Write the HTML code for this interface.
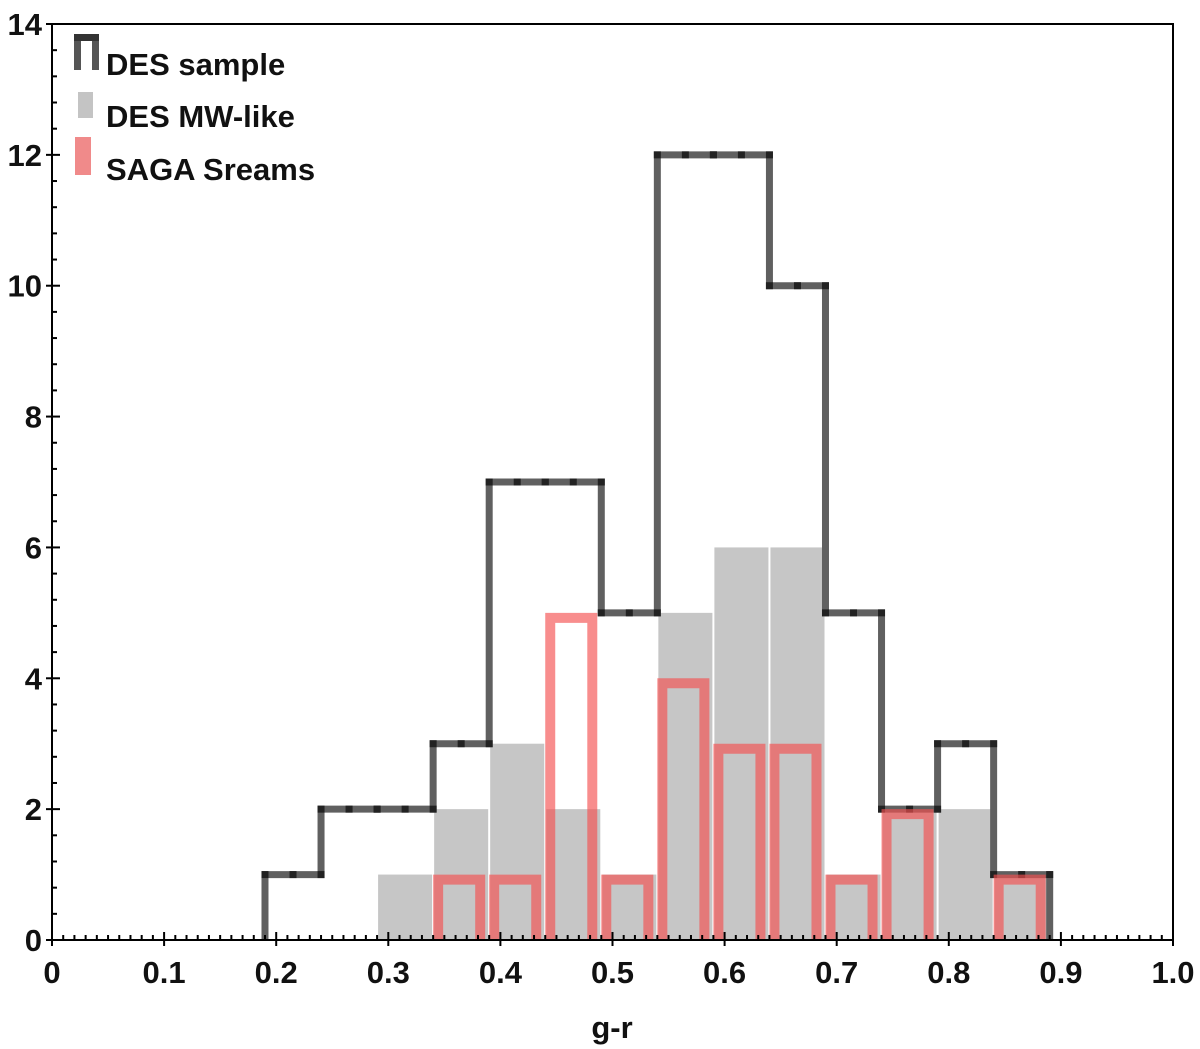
<!DOCTYPE html>
<html><head><meta charset="utf-8"><style>
html,body{margin:0;padding:0;background:#fff;}
svg{display:block;font-family:"Liberation Sans",Arial,sans-serif;font-weight:bold;}
</style></head><body>
<svg id="chart" width="1200" height="1049" viewBox="0 0 1200 1049" xmlns="http://www.w3.org/2000/svg">
<g id="mw"></g>
<g id="des"></g>
<g id="saga"></g>
<g id="axes"></g>
<g>
  <rect x="74" y="34" width="7" height="36" fill="#555"/>
  <rect x="92" y="34" width="7" height="36" fill="#555"/>
  <rect x="74" y="34" width="25" height="7" fill="#333"/>
  <text x="106" y="75" font-size="31" fill="#111">DES sample</text>
  <rect x="78" y="92" width="15" height="26" fill="#c4c4c4"/>
  <text x="106" y="127" font-size="31" fill="#111">DES MW-like</text>
  <rect x="75" y="137" width="16" height="38" fill="#f08a8a"/>
  <text x="106" y="180" font-size="31" fill="#111">SAGA Sreams</text>
</g>
</svg>
<script>
const binEdges = [0.19,0.24,0.29,0.34,0.39,0.44,0.49,0.54,0.59,0.64,0.69,0.74,0.79,0.84,0.89];
const desCounts = [1,2,2,3,7,7,5,12,12,10,5,2,3,1];
const mwCounts  = [0,0,1,2,3,2,1,5,6,6,1,2,2,1];
const sagaCounts= [0,0,0,1,1,5,1,4,3,3,1,2,0,1];
const xTicks = [0,0.1,0.2,0.3,0.4,0.5,0.6,0.7,0.8,0.9,1.0];
const xTickLabels = ["0","0.1","0.2","0.3","0.4","0.5","0.6","0.7","0.8","0.9","1.0"];
const yTicks = [0,2,4,6,8,10,12,14];

const X0=52, X1=1173, Y0=940, YT=24;
const xs = v => X0 + v*(X1-X0);
const ys = v => Y0 - v*(Y0-YT)/14;
const NS="http://www.w3.org/2000/svg";
function mk(tag, parent, attrs){const e=document.createElementNS(NS,tag);for(const k in attrs)e.setAttribute(k,attrs[k]);parent.appendChild(e);return e;}

const mw=document.getElementById('mw');
mwCounts.forEach((c,i)=>{ if(!c) return;
  const r=mk('rect',mw,{x:xs(binEdges[i])+1,y:ys(c),width:xs(binEdges[i+1])-xs(binEdges[i])-2,height:Y0-ys(c),fill:'#c6c6c6'});
  
  
});

const des=document.getElementById('des');
let d='M'+xs(binEdges[0])+','+Y0;
desCounts.forEach((c,i)=>{ d+=' L'+xs(binEdges[i])+','+ys(c)+' L'+xs(binEdges[i+1])+','+ys(c); });
d+=' L'+xs(binEdges[binEdges.length-1])+','+Y0;
const p=mk('path',des,{d:d,fill:'none',stroke:'#606060','stroke-width':7,'stroke-linejoin':'miter'});


desCounts.forEach((c,i)=>{
  [binEdges[i],(binEdges[i]+binEdges[i+1])/2,binEdges[i+1]].forEach(v=>{
    const q=mk('rect',des,{x:xs(v)-3.5,y:ys(c)-3.5,width:7,height:7,fill:'#222'});
    
    
  });
});

const saga=document.getElementById('saga');
sagaCounts.forEach((c,i)=>{ if(!c) return;
  const l=xs(binEdges[i])+5, r=xs(binEdges[i+1])-9, t=ys(c)+5;
  const e=mk('path',saga,{d:'M'+l+','+Y0+' L'+l+','+t+' L'+r+','+t+' L'+r+','+Y0,fill:'none',stroke:'rgba(245,80,80,0.65)','stroke-width':10});
  
  
});

const ax=document.getElementById('axes');
mk('rect',ax,{x:X0,y:YT,width:X1-X0,height:Y0-YT,fill:'none',stroke:'#000','stroke-width':2});
for(let k=0;k<=100;k++){const x=xs(k/100);const big=k%10===0;
  mk('line',ax,{x1:x,x2:x,y1:Y0-(big?8:5),y2:Y0+(big?6:0),stroke:'#000','stroke-width':2});}
for(let k=0;k<=35;k++){const y=ys(k*0.4);const big=k%5===0;
  mk('line',ax,{x1:X0-(big?6:0),x2:X0+(big?8:5),y1:y,y2:y,stroke:'#000','stroke-width':2});}
xTicks.forEach((v,i)=>{const t=mk('text',ax,{x:xs(v),y:983,'font-size':31,'text-anchor':'middle',fill:'#111'});t.textContent=xTickLabels[i];
  
  });
yTicks.forEach(v=>{const t=mk('text',ax,{x:42,y:ys(v)+11,'font-size':31,'text-anchor':'end',fill:'#111'});t.textContent=String(v);
  
  });
const xt=mk('text',ax,{x:612,y:1038,'font-size':31,'text-anchor':'middle',fill:'#111'});xt.textContent='g-r';


</script>
</body></html>
